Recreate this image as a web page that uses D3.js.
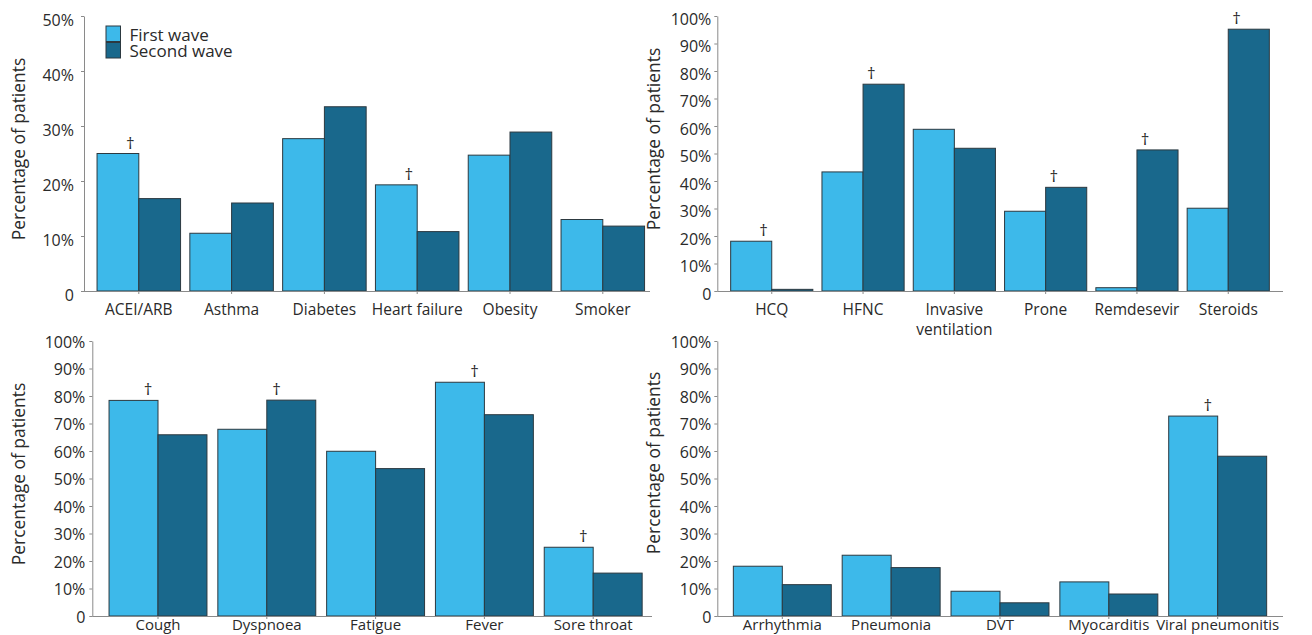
<!DOCTYPE html>
<html>
<head>
<meta charset="utf-8">
<script src="https://cdn.jsdelivr.net/npm/d3@7/dist/d3.min.js"></script>
<style>
  html, body { margin: 0; padding: 0; background: #fff; }
  svg { display: block; }
  text { font-family: "Open Sans", "Noto Sans", sans-serif; fill: #2a2a2a; }
</style>
</head>
<body>
<svg id="chart" width="1312" height="635"></svg>
<script>
// ---------- DATA ----------
const seriesNames = ["First wave", "Second wave"];

const categories1 = ["ACEI/ARB", "Asthma", "Diabetes", "Heart failure", "Obesity", "Smoker"];
const first1  = [25.0, 10.5, 27.7, 19.3, 24.7, 13.0];
const second1 = [16.8, 16.0, 33.5, 10.8, 28.9, 11.8];
const daggers1 = ["first", null, null, "first", null, null];
const yTicks1 = [0, 10, 20, 30, 40, 50];

const categories2 = ["HCQ", "HFNC", "Invasive\nventilation", "Prone", "Remdesevir", "Steroids"];
const first2  = [18.1, 43.3, 58.8, 29.0, 1.2, 30.1];
const second2 = [0.6, 75.2, 51.9, 37.7, 51.3, 95.2];
const daggers2 = ["first", "second", null, "second", "second", "second"];

const categories3 = ["Cough", "Dyspnoea", "Fatigue", "Fever", "Sore throat"];
const first3  = [78.4, 67.9, 59.9, 85.0, 25.0];
const second3 = [65.9, 78.5, 53.6, 73.2, 15.6];
const daggers3 = ["first", "second", null, "first", "first"];

const categories4 = ["Arrhythmia", "Pneumonia", "DVT", "Myocarditis", "Viral pneumonitis"];
const first4  = [18.1, 22.1, 9.0, 12.4, 72.7];
const second4 = [11.4, 17.6, 4.8, 8.0, 58.1];
const daggers4 = [null, null, null, null, "first"];

const yTicks100 = [0, 10, 20, 30, 40, 50, 60, 70, 80, 90, 100];
const yTitle = "Percentage of patients";

// ---------- STYLE / LAYOUT ----------
const colors = { first: "#3DB9EA", second: "#19688C" };
const stroke = "#2c3940";
const axisColor = "#8a8a8a";

const panels = [
  { cats: categories1, a: first1, b: second1, dag: daggers1, max: 50, ticks: yTicks1,
    left: 84, bandRange: [92.4, 649.2], axisEnd: 650, top: 16, bottom: 291,
    tickPad: 7, labelDy: 4, catY: 24, catSize: 15.5, titleX: 25, titleY: 149, legend: true },
  { cats: categories2, a: first2, b: second2, dag: daggers2, max: 100, ticks: yTicks100,
    left: 717.3, bandRange: [726.1, 1273.9], axisEnd: 1283, top: 16, bottom: 291,
    tickPad: 3, labelDy: 3, catY: 24, catSize: 15.5, titleX: 660, titleY: 139, legend: false },
  { cats: categories3, a: first3, b: second3, dag: daggers3, max: 100, ticks: yTicks100,
    left: 92.3, bandRange: [103.6, 647.6], axisEnd: 652, top: 341, bottom: 616,
    tickPad: 4, labelDy: 1, catY: 14, catSize: 15, titleX: 25, titleY: 474, legend: false },
  { cats: categories4, a: first4, b: second4, dag: daggers4, max: 100, ticks: yTicks100,
    left: 717.3, bandRange: [727.9, 1272.1], axisEnd: 1283, top: 341, bottom: 616,
    tickPad: 3, labelDy: 1, catY: 14, catSize: 15, titleX: 660, titleY: 463, legend: false }
];

const svg = d3.select("#chart");
svg.append("rect").attr("width", 1312).attr("height", 635).attr("fill", "#fff");

panels.forEach(p => {
  const g = svg.append("g");
  const y = d3.scaleLinear().domain([0, p.max]).range([p.bottom, p.top]);
  const x0 = d3.scaleBand().domain(p.cats).range(p.bandRange).paddingInner(0.1).paddingOuter(0.05);
  const x1 = d3.scaleBand().domain(["first", "second"]).range([0, x0.bandwidth()]);

  // bars
  const rows = p.cats.map((c, i) => ({ cat: c, first: p.a[i], second: p.b[i], dag: p.dag[i] }));
  const grp = g.selectAll("g.grp").data(rows).join("g").attr("class", "grp")
    .attr("transform", d => `translate(${x0(d.cat)},0)`);
  grp.selectAll("rect").data(d => ["first", "second"].map(k => ({ k, v: d[k] })))
    .join("rect")
    .attr("x", d => x1(d.k))
    .attr("y", d => y(d.v))
    .attr("width", x1.bandwidth())
    .attr("height", d => y(0) - y(d.v))
    .attr("fill", d => colors[d.k])
    .attr("stroke", stroke)
    .attr("stroke-width", 1);

  // daggers
  grp.filter(d => d.dag).append("text")
    .attr("x", d => x1(d.dag) + (d.dag === "first" ? 0.8 : 0.2) * x1.bandwidth())
    .attr("y", d => y(d[d.dag]) - 5)
    .attr("text-anchor", "middle")
    .attr("font-size", 17)
    .text("\u2020");

  // y axis
  const ya = d3.axisLeft(y).tickValues(p.ticks).tickSize(3).tickSizeOuter(0).tickPadding(p.tickPad)
    .tickFormat(d => d === 0 ? "0" : d + "%");
  const yg = g.append("g").attr("transform", `translate(${p.left},0)`).call(ya);
  yg.select(".domain").attr("stroke", axisColor);
  yg.selectAll(".tick line").attr("stroke", axisColor);
  yg.selectAll(".tick text").attr("font-size", 16).attr("font-family", "Open Sans")
    .attr("fill", "#2a2a2a").attr("dy", "0.32em").attr("transform", `translate(0,${p.labelDy})`);

  // x axis line
  g.append("line").attr("x1", p.left).attr("x2", p.axisEnd)
    .attr("y1", p.bottom + 0.5).attr("y2", p.bottom + 0.5)
    .attr("stroke", axisColor).attr("stroke-width", 1);
  const xa = d3.axisBottom(x0).tickSize(3).tickSizeOuter(0).tickFormat("");
  const xg = g.append("g").attr("transform", `translate(0,${p.bottom})`).call(xa);
  xg.select(".domain").remove();
  xg.selectAll(".tick line").attr("stroke", axisColor);

  // category labels
  p.cats.forEach(c => {
    const t = g.append("text")
      .attr("x", x0(c) + x0.bandwidth() / 2)
      .attr("y", p.bottom + p.catY)
      .attr("text-anchor", "middle")
      .attr("font-size", p.catSize);
    c.split("\n").forEach((line, li) => {
      t.append("tspan").attr("x", x0(c) + x0.bandwidth() / 2)
        .attr("dy", li === 0 ? 0 : 20).text(line);
    });
  });

  // y title
  g.append("text")
    .attr("transform", `translate(${p.titleX},${p.titleY}) rotate(-90)`)
    .attr("text-anchor", "middle")
    .attr("font-size", 17.4)
    .text(yTitle);

  // legend
  if (p.legend) {
    const lg = g.append("g").attr("transform", "translate(106,26)");
    seriesNames.forEach((name, i) => {
      const k = i === 0 ? "first" : "second";
      lg.append("rect").attr("x", 0).attr("y", i * 16.5).attr("width", 14.5).attr("height", 15.5)
        .attr("fill", colors[k]).attr("stroke", stroke).attr("stroke-width", 1);
      lg.append("text").attr("x", 23.5).attr("y", i * 16.5 + 14.5)
        .attr("font-family", "Liberation Sans, Arial, sans-serif")
        .attr("font-size", 17).text(name);
    });
  }
});
</script>
</body>
</html>
